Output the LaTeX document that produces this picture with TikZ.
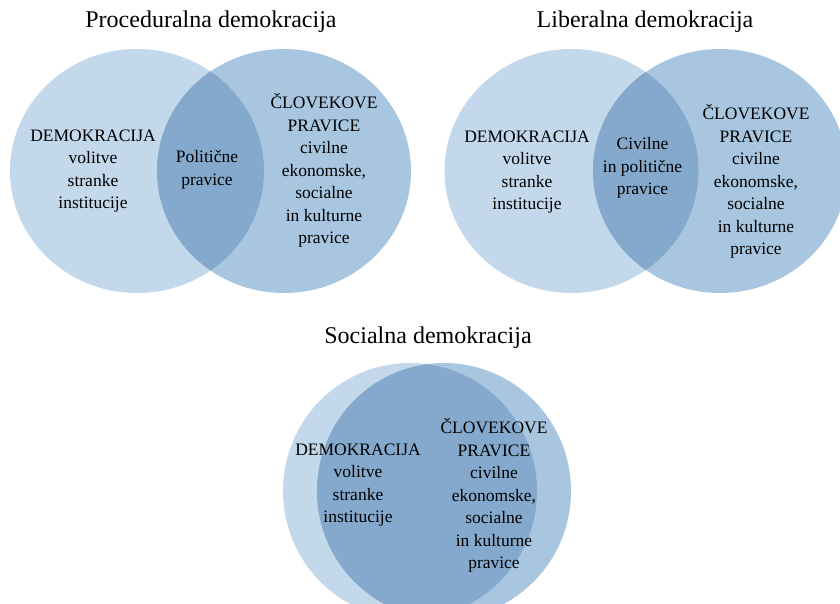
\documentclass[tikz,border=0pt]{standalone}
\usepackage{fontspec}
\setmainfont{Liberation Serif}
\definecolor{lightblue}{HTML}{C3D8EA}
\definecolor{midblue}{HTML}{A8C6DF}
\definecolor{darkblue}{HTML}{84A9CC}
\tikzset{
	title/.style={font=\fontsize{24}{28}\selectfont},
	label/.style={align=center, font=\fontsize{17.5}{22.5}\selectfont}
}
\begin{document}
\begin{tikzpicture}[x=1pt, y=-1pt]
			\useasboundingbox (0, 0) rectangle (840, 604);
			
			% top two diagrams
			\foreach \l/\r in {137/284, 571.5/720}{
				\fill[lightblue] (\l, 171) ellipse [x radius=127, y radius=122];
				\fill[midblue] (\r, 171) ellipse [x radius=127, y radius=122];
				\begin{scope}
					\clip (\l, 171) ellipse [x radius=127, y radius=122];
					\fill[darkblue] (\r, 171) ellipse [x radius=127, y radius=122];
				\end{scope}
			}
			
			% bottom diagram
			\fill[lightblue] (410, 491) ellipse [x radius=127, y radius=128];
			\fill[midblue] (444, 491) ellipse [x radius=127, y radius=128];
			\begin{scope}
				\clip (410, 491) ellipse [x radius=127, y radius=128];
				\fill[darkblue] (444, 491) ellipse [x radius=127, y radius=128];
			\end{scope}
			
			% titles
			\node[title] (proc) at (211, 22) {Proceduralna demokracija};
			\node[title] (lib) at (645, 22) {Liberalna demokracija};
			\node[title] (soc) at (428, 338) {Socialna demokracija};
			
			% proceduralna
			\node[label] (procdem) at (93, 171) {DEMOKRACIJA\\volitve\\stranke\\institucije};
			\node[label] (procpol) at (207, 170) {Politične\\pravice};
			\node[label] (procclo) at (324, 170.5) {ČLOVEKOVE\\PRAVICE\\civilne\\ekonomske,\\socialne\\in kulturne\\pravice};
			
			% liberalna
			\node[label] (libdem) at (527, 172) {DEMOKRACIJA\\volitve\\stranke\\institucije};
			\node[label] (libpol) at (642.5, 168) {Civilne\\in politične\\pravice};
			\node[label] (libclo) at (756, 181.5) {ČLOVEKOVE\\PRAVICE\\civilne\\ekonomske,\\socialne\\in kulturne\\pravice};
			
			% socialna
			\node[label] (socdem) at (358, 485) {DEMOKRACIJA\\volitve\\stranke\\institucije};
			\node[label] (socclo) at (494, 495.5) {ČLOVEKOVE\\PRAVICE\\civilne\\ekonomske,\\socialne\\in kulturne\\pravice};
		\end{tikzpicture}
\end{document}
